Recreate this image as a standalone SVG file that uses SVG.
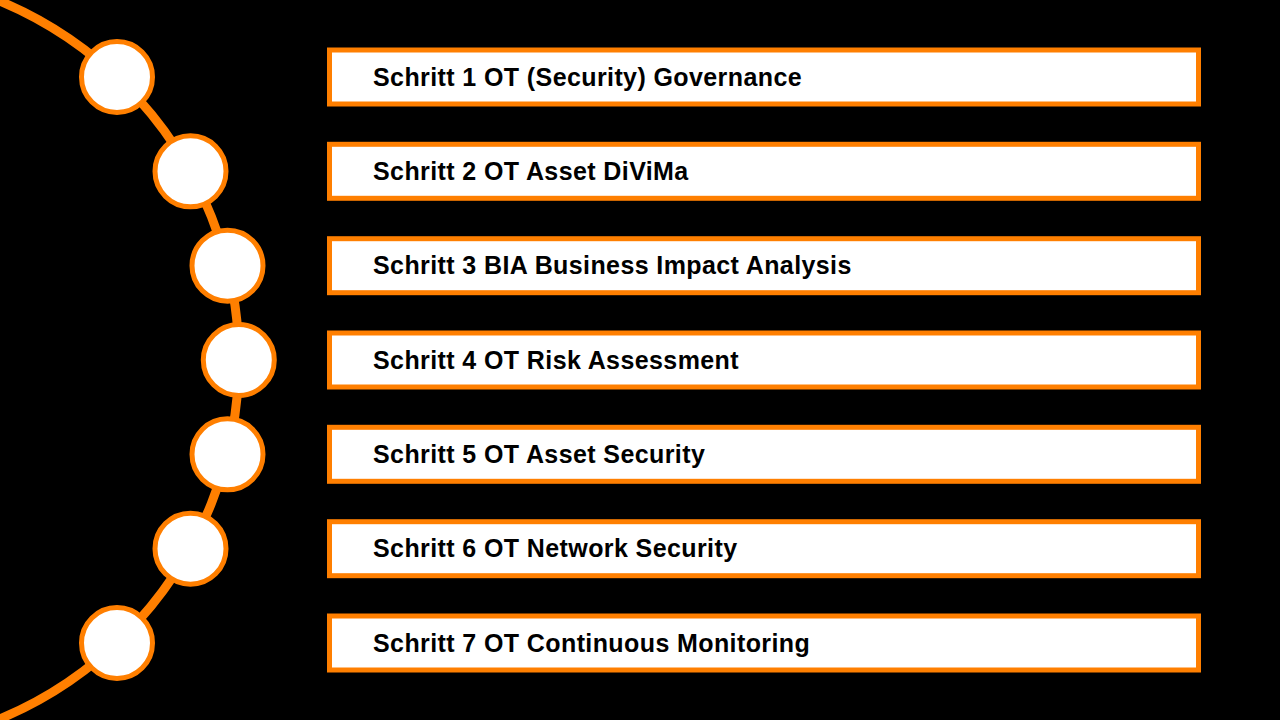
<svg xmlns="http://www.w3.org/2000/svg" width="1280" height="720" viewBox="0 0 1280 720">
<style>
.arc{fill:none;stroke:#FF7F00;stroke-width:9}
.dot{fill:#FFFFFF;stroke:#FF7F00;stroke-width:5}
.box{fill:#FFFFFF;stroke:#FF7F00;stroke-width:5}
.lbl{font-family:"Liberation Sans",Arial,sans-serif;font-weight:bold;font-size:25px;letter-spacing:0.4px;fill:#000000}
</style>
<rect x="0" y="0" width="1280" height="720" fill="#000000"/>
<g id="connectors">
<circle class="arc" cx="-150.2" cy="360" r="389"/>
</g>
<g id="step1"><circle class="dot" cx="117" cy="77" r="35.5"/><rect class="box" x="329.5" y="50" width="869" height="54"/><text class="lbl" x="373" y="85.5">Schritt 1 OT (Security) Governance</text></g>
<g id="step2"><circle class="dot" cx="190.5" cy="171.3" r="35.5"/><rect class="box" x="329.5" y="144.3" width="869" height="54"/><text class="lbl" x="373" y="179.8">Schritt 2 OT Asset DiViMa</text></g>
<g id="step3"><circle class="dot" cx="227.5" cy="265.7" r="35.5"/><rect class="box" x="329.5" y="238.7" width="869" height="54"/><text class="lbl" x="373" y="274.2">Schritt 3 BIA Business Impact Analysis</text></g>
<g id="step4"><circle class="dot" cx="238.8" cy="360" r="35.5"/><rect class="box" x="329.5" y="333" width="869" height="54"/><text class="lbl" x="373" y="368.5">Schritt 4 OT Risk Assessment</text></g>
<g id="step5"><circle class="dot" cx="227.5" cy="454.3" r="35.5"/><rect class="box" x="329.5" y="427.3" width="869" height="54"/><text class="lbl" x="373" y="462.8">Schritt 5 OT Asset Security</text></g>
<g id="step6"><circle class="dot" cx="190.5" cy="548.7" r="35.5"/><rect class="box" x="329.5" y="521.7" width="869" height="54"/><text class="lbl" x="373" y="557.2">Schritt 6 OT Network Security</text></g>
<g id="step7"><circle class="dot" cx="117" cy="643" r="35.5"/><rect class="box" x="329.5" y="616" width="869" height="54"/><text class="lbl" x="373" y="651.5">Schritt 7 OT Continuous Monitoring</text></g>
</svg>
